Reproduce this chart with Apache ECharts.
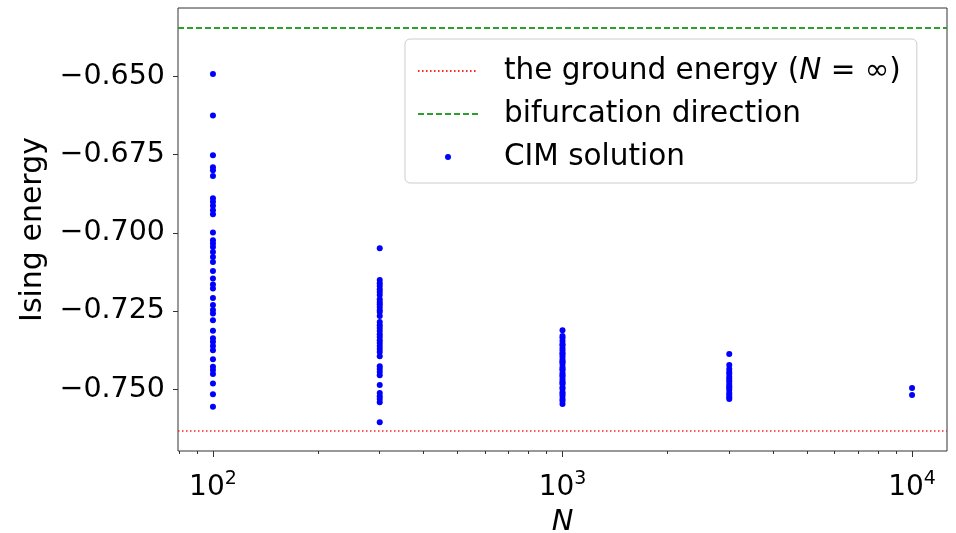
<!DOCTYPE html>
<html>
<head>
<meta charset="utf-8">
<script src="https://cdn.jsdelivr.net/npm/echarts@6/dist/echarts.min.js"></script>
<style>
	html, body { margin: 0; padding: 0; background: #fff; }
	#IsingChart { width: 956px; height: 533px; }
</style>
</head>
<body>
<div id="IsingChart"></div>
<script>
	// system sizes N (one column of CIM runs per size)
	var sizes = [100, 300, 1000, 3000, 10000]
	// Ising energy of every CIM run
	var energies100 = [-0.6493, -0.6625, -0.6752, -0.6791, -0.6800, -0.6819, -0.6890, -0.6901, -0.6914, -0.6928,
		-0.6941, -0.6999, -0.7024, -0.7034, -0.7045, -0.7061, -0.7077, -0.7093, -0.7122, -0.7146,
		-0.7165, -0.7178, -0.7208, -0.7231, -0.7247, -0.7258, -0.7279, -0.7313, -0.7337, -0.7348,
		-0.7362, -0.7375, -0.7404, -0.7428, -0.7438, -0.7451, -0.7481, -0.7516, -0.7556]
	var energies300 = [-0.7049, -0.7151, -0.7161, -0.7170, -0.7180, -0.7189, -0.7199, -0.7212, -0.7221, -0.7228,
		-0.7237, -0.7247, -0.7253, -0.7266, -0.7285, -0.7295, -0.7304, -0.7314, -0.7324, -0.7333,
		-0.7343, -0.7352, -0.7362, -0.7371, -0.7381, -0.7394, -0.7426, -0.7435, -0.7445, -0.7455,
		-0.7486, -0.7512, -0.7522, -0.7531, -0.7541, -0.7605]
	var energies1000 = [-0.7311, -0.7330, -0.7336, -0.7346, -0.7355, -0.7359, -0.7368, -0.7375, -0.7384, -0.7387,
		-0.7394, -0.7403, -0.7410, -0.7413, -0.7419, -0.7429, -0.7435, -0.7438, -0.7448, -0.7454,
		-0.7458, -0.7467, -0.7474, -0.7480, -0.7483, -0.7493, -0.7499, -0.7509, -0.7515, -0.7521,
		-0.7531, -0.7537, -0.7547]
	var energies3000 = [-0.7387, -0.7422, -0.7435, -0.7445, -0.7451, -0.7461, -0.7467, -0.7474, -0.7483, -0.7490,
		-0.7496, -0.7502, -0.7512, -0.7518, -0.7525, -0.7531]
	var energies10000 = [-0.7496, -0.7518]
	var energiesBySize = [energies100, energies300, energies1000, energies3000, energies10000]

	// reference levels
	var groundEnergy = -0.7633
	var bifurcationEnergy = -0.6346

	// axis ticks and limits
	var xMajorTicks = [100, 1000, 10000]
	var xMinorTicks = [80, 90, 200, 300, 400, 500, 600, 700, 800, 900, 2000, 3000, 4000, 5000, 6000, 7000, 8000, 9000]
	var xMin = 79.43
	var xMax = 12589
	var yTicks = [-0.750, -0.725, -0.700, -0.675, -0.650]
	var yMin = -0.7697
	var yMax = -0.6282

	var seriesNames = ['the ground energy (N = ∞)', 'bifurcation direction', 'CIM solution']

	var font = 'DejaVu Sans'

	// scatter points: one [N, energy] pair per run
	var cimPoints = []
	sizes.forEach(function (n, i) {
		energiesBySize[i].forEach(function (e) {
			cimPoints.push([n, e])
		})
	})

	// horizontal reference line across the whole x range
	function hline(level) {
		return [[xMin, level], [xMax, level]]
	}

	function minusFmt(v) {
		return (v < 0 ? '\u2212' : '') + Math.abs(v).toFixed(3)
	}

	var option = {
		animation: false,
		backgroundColor: '#fff',
		grid: {
			left: 178,
			right: 9,
			top: 8,
			bottom: 82,
			show: true,
			borderColor: '#333',
			borderWidth: 1,
			outerBoundsMode: 'none'
		},
		legend: {
			orient: 'vertical',
			left: 405,
			top: 39,
			padding: [17, 16, 11, 12],
			itemGap: 13,
			itemWidth: 60,
			itemHeight: 6,
			backgroundColor: 'rgba(255,255,255,0.8)',
			borderColor: '#cccccc',
			borderWidth: 1,
			borderRadius: 5,
			data: seriesNames,
			formatter: function (name) {
				return name.replace('(N', '({i|N}')
			},
			textStyle: {
				fontFamily: font,
				fontSize: 29.5,
				color: '#000',
				lineHeight: 30,
				padding: [0, 0, 0, 21],
				rich: {
					i: { fontFamily: font, fontSize: 29.5, fontStyle: 'italic', color: '#000', lineHeight: 30 }
				}
			}
		},
		xAxis: [
			{
				type: 'log',
				logBase: 10,
				min: xMin,
				max: xMax,
				position: 'bottom',
				name: 'N',
				nameLocation: 'middle',
				nameGap: 57,
				nameTextStyle: { fontFamily: font, fontSize: 29, fontStyle: 'italic', color: '#000' },
				axisLine: { show: false },
				splitLine: { show: false },
				axisTick: { show: true, customValues: xMajorTicks, length: 6, lineStyle: { color: '#333' } },
				axisLabel: {
					customValues: xMajorTicks,
					margin: 19,
					color: '#000',
					fontFamily: font,
					fontSize: 28,
					formatter: function (v) {
						return '{b|10}{sup|' + Math.round(Math.log10(v)) + '}'
					},
					rich: {
						b: { fontFamily: font, fontSize: 28, color: '#000', lineHeight: 36 },
						sup: { fontFamily: font, fontSize: 19, color: '#000', verticalAlign: 'top', lineHeight: 22 }
					}
				}
			},
			{
				type: 'log',
				logBase: 10,
				min: xMin,
				max: xMax,
				position: 'bottom',
				axisLine: { show: false },
				splitLine: { show: false },
				axisTick: { show: true, customValues: xMinorTicks, length: 3, lineStyle: { color: '#333' } },
				axisLabel: { show: false }
			}
		],
		yAxis: {
			type: 'value',
			min: yMin,
			max: yMax,
			name: 'Ising energy',
			nameLocation: 'middle',
			nameGap: 126,
			nameTextStyle: { fontFamily: font, fontSize: 30, color: '#000' },
			axisLine: { show: false },
			splitLine: { show: false },
			axisTick: { show: true, customValues: yTicks, length: 5, lineStyle: { color: '#333' } },
			axisLabel: {
				customValues: yTicks,
				margin: 13,
				color: '#000',
				fontFamily: font,
				fontSize: 28.5,
				formatter: minusFmt
			}
		},
		series: [
			{
				name: seriesNames[0],
				type: 'line',
				data: hline(groundEnergy),
				symbol: 'none',
				silent: true,
				itemStyle: { color: '#ff2020', opacity: 0 },
				lineStyle: { color: '#ff2020', width: 1.5, type: [1.5, 2.5] }
			},
			{
				name: seriesNames[1],
				type: 'line',
				data: hline(bifurcationEnergy),
				symbol: 'none',
				silent: true,
				itemStyle: { color: '#2ca02c', opacity: 0 },
				lineStyle: { color: '#2ca02c', width: 2, type: [6, 3] }
			},
			{
				name: seriesNames[2],
				type: 'scatter',
				symbol: 'circle',
				symbolSize: 6,
				itemStyle: { color: '#0000ff', opacity: 1 },
				data: cimPoints
			}
		]
	}

	var IsingChart = echarts.init(document.getElementById('IsingChart'))
	IsingChart.setOption(option)
</script>
</body>
</html>
